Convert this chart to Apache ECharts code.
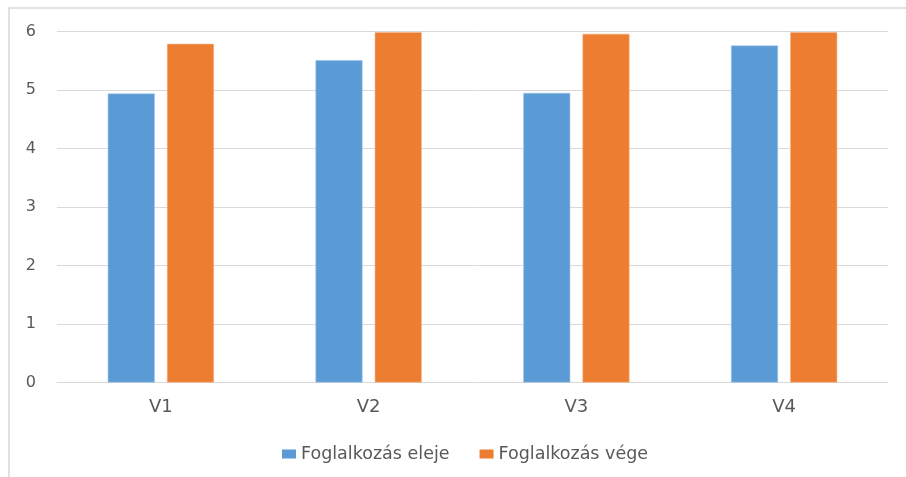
<!DOCTYPE html>
<html>
<head>
<meta charset="utf-8">
<script src="https://cdn.jsdelivr.net/npm/echarts@6/dist/echarts.min.js"></script>
<style>
  html, body { margin: 0; padding: 0; background: #fff; }
  #chart { width: 906px; height: 477px; }
</style>
</head>
<body>
<div id="chart"></div>
<script>
// Session scores: start vs. end of each activity
const categories = ['V1', 'V2', 'V3', 'V4'];
const startScores = [4.94, 5.51, 4.95, 5.76];
const endScores = [5.79, 5.99, 5.96, 5.99];
const seriesNames = ['Foglalkozás eleje', 'Foglalkozás vége'];
const yTicks = [0, 1, 2, 3, 4, 5, 6];

const font = 'DejaVu Sans';
const textColor = '#595959';
const chart = echarts.init(document.getElementById('chart'));

chart.setOption({
  animation: false,
  color: ['#5B9BD5', '#ED7D31'],
  graphic: [{
    // chart-area frame, left and top edges
    type: 'polyline',
    shape: { points: [[9, 477], [9, 8], [906, 8]] },
    style: { fill: null, stroke: '#D9D9D9', lineWidth: 1.6 },
    silent: true
  }],
  grid: { left: 57, right: 18, top: 31.5, bottom: 94.5 },
  legend: {
    data: seriesNames,
    top: 440,
    left: 277,
    itemWidth: 14,
    itemHeight: 9,
    itemGap: 30,
    icon: 'rect',
    itemStyle: { borderWidth: 0 },
    textStyle: { fontFamily: font, fontSize: 17.5, color: textColor }
  },
  xAxis: {
    type: 'category',
    data: categories,
    axisLine: { lineStyle: { color: '#D9D9D9', width: 1 } },
    axisTick: { show: false },
    axisLabel: { fontFamily: font, fontSize: 18, color: textColor, margin: 16 }
  },
  yAxis: {
    type: 'value',
    min: yTicks[0],
    max: yTicks[yTicks.length - 1],
    interval: 1,
    axisLine: { show: false },
    axisTick: { show: false },
    splitLine: { lineStyle: { color: '#D9D9D9', width: 1 } },
    axisLabel: { fontFamily: font, fontSize: 16, color: textColor, margin: 21 }
  },
  series: [
    {
      name: seriesNames[0],
      type: 'bar',
      data: startScores,
      barWidth: 47,
      barGap: '26%',
      itemStyle: { borderColor: '#9DC3E6', borderWidth: 0.6 }
    },
    {
      name: seriesNames[1],
      type: 'bar',
      data: endScores,
      barWidth: 47,
      barGap: '26%',
      itemStyle: { borderColor: '#F4B183', borderWidth: 0.6 }
    }
  ]
});
</script>
</body>
</html>
